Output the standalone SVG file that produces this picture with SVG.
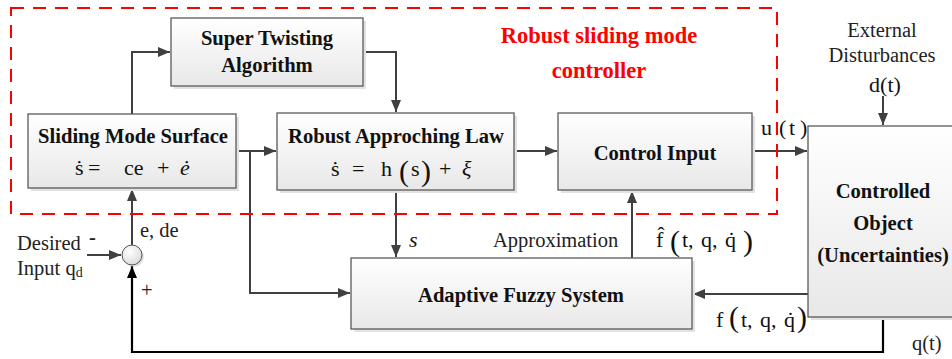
<svg xmlns="http://www.w3.org/2000/svg" width="952" height="359" viewBox="0 0 952 359" font-family="'Liberation Serif', 'Times New Roman', serif">
  <style>
    .box { fill: url(#boxFill); stroke: #5a5a5a; stroke-width: 1.3; }
    .shadow { fill: #e2e2e2; }
    .title { font-weight: bold; font-size: 20.6px; fill: #111; text-anchor: middle; }
    .math { font-size: 22px; fill: #111; }
    .ital { font-style: italic; }
    .label { font-size: 20.5px; fill: #222; }
    .paren { font-size: 30px; fill: #111; }
    .wire { fill: none; stroke: #404040; stroke-width: 2; }
    .fb { fill: none; stroke: #000; stroke-width: 2.2; }
    .frame { fill: none; stroke: #ff0000; stroke-width: 2; stroke-dasharray: 13 9; }
    .red { font-weight: bold; font-size: 22.5px; fill: #ff0000; text-anchor: middle; }
  </style>
  <defs>
    <linearGradient id="boxFill" x1="0" y1="0" x2="0" y2="1">
      <stop offset="0" stop-color="#ffffff"/>
      <stop offset="1" stop-color="#e8e8e8"/>
    </linearGradient>
    <radialGradient id="sumFill" cx="0.4" cy="0.35" r="0.7">
      <stop offset="0" stop-color="#ffffff"/>
      <stop offset="1" stop-color="#d8d8d8"/>
    </radialGradient>
    <marker id="arr" markerUnits="userSpaceOnUse" markerWidth="13" markerHeight="11" refX="12" refY="5" orient="auto">
      <path d="M0,0 L12,5 L0,10 Z" fill="#404040"/>
    </marker>
    <marker id="arrK" markerUnits="userSpaceOnUse" markerWidth="13" markerHeight="11" refX="12" refY="5" orient="auto">
      <path d="M0,0 L12,5 L0,10 Z" fill="#000"/>
    </marker>
  </defs>

  <rect width="952" height="359" fill="#ffffff"/>

  <!-- connectors -->
  <g id="connectors">
    <path class="wire" d="M132,114 V52 H170" marker-end="url(#arr)"/>
    <path class="wire" d="M363,52 H396 V112" marker-end="url(#arr)"/>
    <path class="wire" d="M236,151 H276" marker-end="url(#arr)"/>
    <path class="wire" d="M250,151 V293 H350" marker-end="url(#arr)"/>
    <path class="wire" d="M514,151 H557" marker-end="url(#arr)"/>
    <path class="wire" d="M396,190 V257" marker-end="url(#arr)"/>
    <path class="wire" d="M632,258 V191" marker-end="url(#arr)"/>
    <path class="wire" d="M752,151 H807" marker-end="url(#arr)"/>
    <path class="wire" d="M883,96 V125" marker-end="url(#arr)"/>
    <path class="wire" d="M808,294 H693" marker-end="url(#arr)"/>
    <path class="wire" d="M87,255 H121" marker-end="url(#arr)"/>
    <path class="wire" d="M132,245 V189" marker-end="url(#arr)"/>
    <path class="fb" d="M883,317 V352 H132 V266" marker-end="url(#arrK)"/>
  </g>

  <!-- controller boundary -->
  <g id="controller-frame">
    <rect class="frame" x="11" y="8" width="766" height="206"/>
    <text class="red" x="599" y="43">Robust sliding mode</text>
    <text class="red" x="599" y="78">controller</text>
  </g>

  <g id="super-twisting">
    <rect class="shadow" x="174" y="21" width="192" height="68"/>
    <rect class="box" x="171" y="18" width="192" height="68"/>
    <text class="title" x="267" y="45">Super Twisting</text>
    <text class="title" x="267" y="72">Algorithm</text>
  </g>

  <g id="sliding-surface">
    <rect class="shadow" x="31" y="117" width="208" height="74"/>
    <rect class="box" x="28" y="114" width="208" height="74"/>
    <text class="title" x="133" y="143">Sliding Mode Surface</text>
    <text class="math" y="175"><tspan x="75">ṡ</tspan><tspan x="88">=</tspan><tspan x="124">ce</tspan><tspan x="157">+</tspan><tspan x="180" class="ital">ė</tspan></text>
  </g>

  <g id="approaching-law">
    <rect class="shadow" x="280" y="116" width="237" height="77"/>
    <rect class="box" x="277" y="113" width="237" height="77"/>
    <text class="title" x="396" y="143">Robust Approching Law</text>
    <text class="math" y="176"><tspan x="331">ṡ</tspan><tspan x="352">=</tspan><tspan x="381">h</tspan><tspan x="411">s</tspan><tspan x="439">+</tspan><tspan x="462" class="ital">ξ</tspan></text>
    <text class="paren" y="181"><tspan x="399">(</tspan><tspan x="421">)</tspan></text>
  </g>

  <g id="control-input">
    <rect class="shadow" x="561" y="116" width="194" height="77"/>
    <rect class="box" x="558" y="113" width="194" height="77"/>
    <text class="title" x="655" y="160">Control Input</text>
  </g>

  <g id="controlled-object">
    <rect class="shadow" x="811" y="129" width="150" height="191"/>
    <rect class="box" x="808" y="126" width="150" height="191"/>
    <text class="title" x="883" y="198">Controlled</text>
    <text class="title" x="883" y="230">Object</text>
    <text class="title" x="883" y="262">(Uncertainties)</text>
  </g>

  <g id="fuzzy-system">
    <rect class="shadow" x="354" y="261" width="341" height="71"/>
    <rect class="box" x="351" y="258" width="341" height="71"/>
    <text class="title" x="521" y="302">Adaptive Fuzzy System</text>
  </g>

  <g id="summing-junction">
    <circle cx="134" cy="257" r="10" fill="#d0d0d0" opacity="0.6"/>
    <circle cx="132" cy="255" r="10" fill="url(#sumFill)" stroke="#555" stroke-width="1"/>
  </g>

  <!-- signal labels -->
  <g id="labels">
    <text class="label" x="882" y="37" text-anchor="middle">External</text>
    <text class="label" x="882" y="62" text-anchor="middle">Disturbances</text>
    <text class="math" x="885" y="92" text-anchor="middle" font-size="25">d(t)</text>

    <text class="math" y="135"><tspan x="761">u</tspan><tspan x="779">(</tspan><tspan x="789">t</tspan><tspan x="800">)</tspan></text>

    <text class="label" x="493" y="247">Approximation</text>
    <text class="math" y="247" word-spacing="2"><tspan x="656">f̂</tspan><tspan x="682">t, q, q̇</tspan></text>
    <text class="paren" y="251" font-size="28"><tspan x="670">(</tspan><tspan x="743">)</tspan></text>

    <text class="math" y="327" word-spacing="2"><tspan x="716">f</tspan><tspan x="741">t, q, q̇</tspan></text>
    <text class="paren" y="327" font-size="28"><tspan x="729">(</tspan><tspan x="797">)</tspan></text>

    <text class="math ital" x="409" y="247">s</text>

    <text class="label" x="140" y="237">e, de</text>
    <text class="label" x="17" y="250">Desired</text>
    <text class="label" x="17" y="275">Input q<tspan font-size="14" dy="2">d</tspan></text>
    <text class="label" x="89" y="244" font-weight="bold">-</text>
    <text class="label" x="141" y="297" font-size="17">+</text>
    <text class="label" x="912" y="350">q(t)</text>
  </g>
</svg>
